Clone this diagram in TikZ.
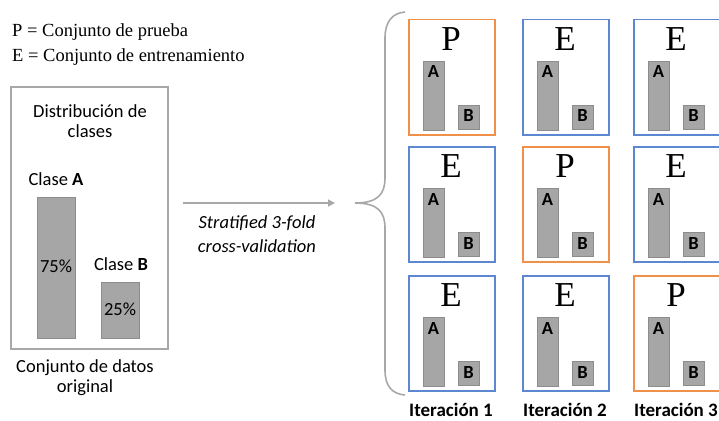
\documentclass[tikz,border=0pt]{standalone}
\usepackage{fontspec}
\setmainfont{Liberation Serif}
\setsansfont{Carlito}
\usetikzlibrary{arrows.meta}
\definecolor{testset}{HTML}{F0904A}
\definecolor{trainset}{HTML}{5E87D2}
\definecolor{barfill}{HTML}{A6A6A6}
\definecolor{baredge}{HTML}{8C8C8C}
\definecolor{rulegray}{HTML}{A8A8A8}
\begin{document}
\begin{tikzpicture}[x=1pt,y=-1pt,
  lbl/.style={font=\sffamily\fontsize{18.5}{20}\selectfont,inner sep=0pt,anchor=base},
  legend/.style={font=\fontsize{18.5}{20}\selectfont,inner sep=0pt,anchor=base west},
  bar/.style={fill=barfill,draw=baredge,line width=0.8pt},
  fold/.style={draw=#1,line width=1.5pt,minimum width=86pt,minimum height=115pt,inner sep=0pt,anchor=north west},
  setletter/.style={font=\fontsize{35}{35}\selectfont,inner sep=0pt,anchor=base},
  minilbl/.style={font=\sffamily\bfseries\fontsize{18.5}{18}\selectfont,inner sep=0pt},
  flow/.style={draw=rulegray,line width=1.5pt,-{Triangle[length=7pt,width=7pt]}}]
\useasboundingbox (0,0) rectangle (719,420);

\node[legend] (lgP) at (12,37) {P = Conjunto de prueba};
\node[legend] (lgE) at (12,61) {E = Conjunto de entrenamiento};

\node[draw=rulegray,line width=1.6pt,minimum width=157pt,minimum height=262pt,inner sep=0pt] (dist) at (89.5,218) {};
\node[lbl,align=center] (title) at (90,137) {Distribución de\\clases};
\draw[bar] (37,197) rectangle (75,338);
\draw[bar] (101,282) rectangle (139,338);
\node[lbl] (clsA) at (56,185) {Clase \textbf{A}};
\node[lbl] (pctA) at (56,272) {75\%};
\node[lbl] (clsB) at (121,270) {Clase \textbf{B}};
\node[lbl] (pctB) at (120,315) {25\%};
\node[lbl,align=center] (orig) at (85,392) {Conjunto de datos\\original};

\coordinate (tip) at (355,203);
\draw[flow] ([xshift=14pt]dist.east |- tip) -- ([xshift=-20pt]tip);
\node[lbl,align=center,font=\sffamily\itshape\fontsize{18.5}{24}\selectfont] (cv) at (257,252) {Stratified 3-fold\\cross-validation};

\draw[rulegray,line width=1.6pt] (405,12) .. controls (392,13) and (385,22) .. (385,38) -- (385,178)
  .. controls (385,194) and (378,203) .. (tip);
\draw[rulegray,line width=1.6pt] (tip) .. controls (378,203) and (385,212) .. (385,228) -- (385,370)
  .. controls (385,386) and (392,394) .. (405,395);

\foreach \c/\bx in {1/408,2/522,3/633} {
  \foreach \r/\by in {1/19,2/146,3/275} {
    \ifnum\r=\c \def\setcol{testset}\def\setlet{P}\else \def\setcol{trainset}\def\setlet{E}\fi
    \node[fold=\setcol] (f\r\c) at (\bx,\by) {};
    \node[setletter] (l\r\c) at (\bx+43,\by+31) {\setlet};
    \draw[bar] (\bx+15,\by+42) rectangle (\bx+36,\by+111);
    \draw[bar] (\bx+50,\by+86) rectangle (\bx+71,\by+110);
    \node[minilbl] (a\r\c) at (\bx+25.5,\by+53) {A};
    \node[minilbl] (b\r\c) at (\bx+60.5,\by+97) {B};
  }
  \node[lbl,font=\sffamily\bfseries\fontsize{19}{20}\selectfont] (it\c) at (\bx+43,416) {Iteración \c};
}
\end{tikzpicture}
\end{document}
